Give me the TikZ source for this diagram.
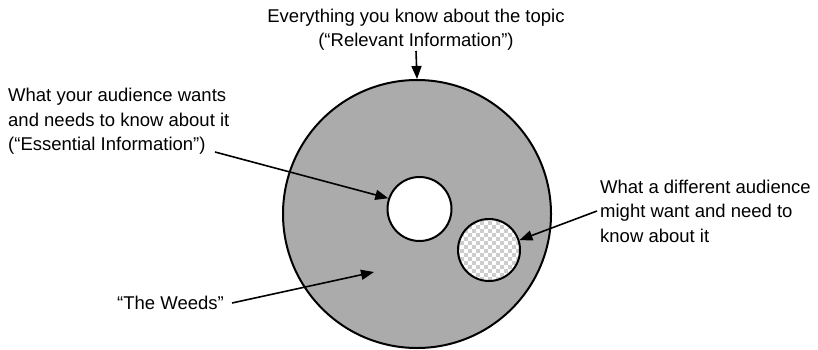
\documentclass[tikz,border=0pt]{standalone}
\usepackage{fontspec}
\setmainfont{Liberation Sans}
\usepackage{tikz}
\usetikzlibrary{arrows.meta, positioning, calc}
\definecolor{WeedGray}{RGB}{171, 171, 171}
\definecolor{CheckGray}{RGB}{205, 205, 205}
\definecolor{InkBlack}{RGB}{0, 0, 0}

\tikzset{
  callout/.style={align=left, inner sep=0pt, font=\fontsize{18.5}{24.5}\selectfont},
  pointer/.style={InkBlack, line width=1.6pt, -{Triangle[length=13pt, width=10pt]}},
  disc/.style={circle, draw=InkBlack, line width=2pt, inner sep=0pt}
}

\begin{document}
\begin{tikzpicture}[x=1pt,y=-1pt]
  \path[use as bounding box] (0,0) rectangle (818,350);

  % Circles
  \node[disc, fill=WeedGray, minimum size=268pt] (topic) at (417,214) {};
  \node[disc, fill=white, minimum size=64pt] (essential) at (419.5,209) {};
  \begin{scope}
    \clip (489,250) circle (31pt);
    \fill[white] (456,217) rectangle (522,283);
    \foreach \i in {0,...,16} {
      \foreach \j in {0,...,16} {
        \pgfmathtruncatemacro{\odd}{mod(\i+\j,2)}
        \ifnum\odd=1
          \fill[CheckGray] (456+4*\i,217+4*\j) rectangle ++(4,4);
        \fi
      }
    }
  \end{scope}
  \node[disc, minimum size=62pt] (different) at (489,250) {};

  % Labels
  \node[callout, align=center, anchor=south] (relevant) at (416,51) {%
    Everything you know about the topic\\(\textquotedblleft Relevant Information\textquotedblright)};
  \node[callout, anchor=north west] (essText) at (8,88) {%
    What your audience wants\\and needs to know about it\\(\textquotedblleft Essential Information\textquotedblright)};
  \node[callout, anchor=west] (diffText) at (600,211) {%
    What a different audience\\might want and need to\\know about it};
  \node[callout, anchor=east] (weeds) at (224,303) {\textquotedblleft The Weeds\textquotedblright};

  \coordinate (essFrom) at (215,152);
  \coordinate (weedsTip) at (374,272);

  % Arrows
  \draw[pointer] (relevant.south) -- (topic.north);
  \draw[pointer] (essFrom) -- (essential.161);
  \draw[pointer] ([xshift=-3pt]diffText.west) -- (different.18);
  \draw[pointer] ([xshift=8pt]weeds.east) -- (weedsTip);
\end{tikzpicture}
\end{document}
